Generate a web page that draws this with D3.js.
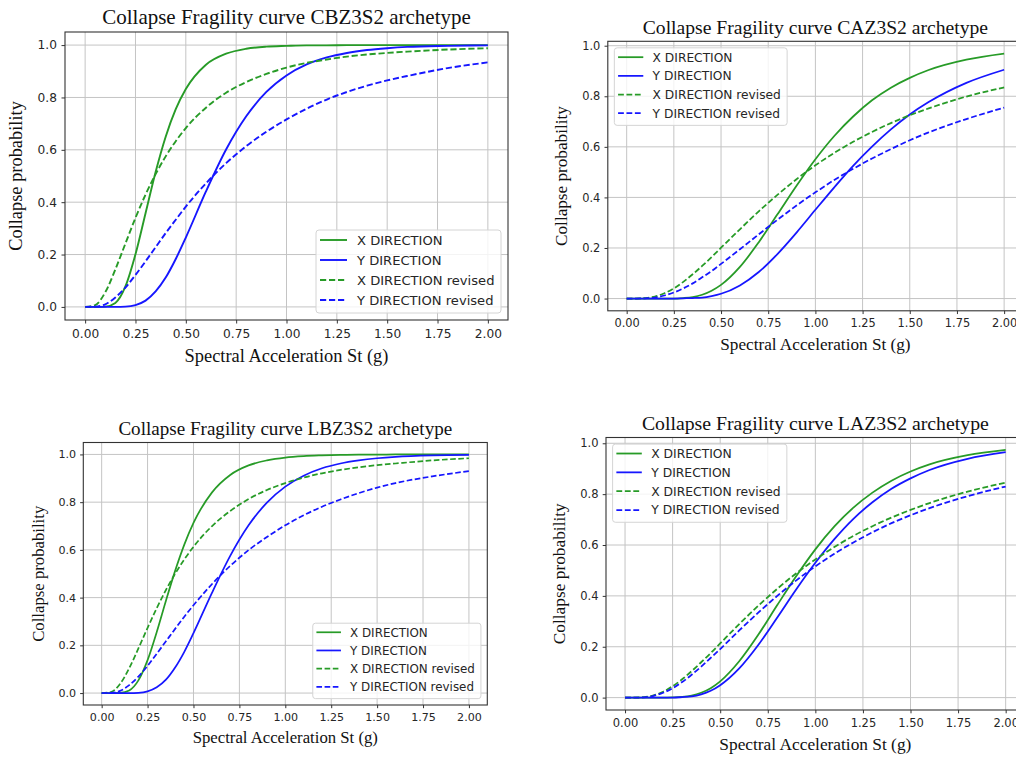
<!DOCTYPE html>
<html>
<head>
<meta charset="utf-8">
<script src="https://cdn.jsdelivr.net/npm/d3@7"></script>
<style>
  html, body { margin: 0; padding: 0; background: #fff; }
  svg { display: block; }
</style>
</head>
<body>
<svg id="chart" width="1016" height="758"></svg>
<script>
// spectral acceleration samples (g), shared by every curve
const sa = [0, 0.05, 0.1, 0.15, 0.2, 0.25, 0.3, 0.35, 0.4, 0.45, 0.5, 0.6, 0.7, 0.8, 0.9, 1.0, 1.1, 1.2, 1.3, 1.4, 1.5, 1.6, 1.8, 2.0];

// CBZ3S2
const cbzX  = [0, 0, 0.001, 0.015, 0.078, 0.201, 0.358, 0.515, 0.650, 0.755, 0.832, 0.925, 0.967, 0.986, 0.994, 0.997, 0.999, 0.999, 1.0, 1.0, 1.0, 1.0, 1.0, 1.0];
const cbzY  = [0, 0, 0, 0, 0.001, 0.007, 0.024, 0.059, 0.112, 0.183, 0.265, 0.441, 0.601, 0.728, 0.821, 0.884, 0.926, 0.953, 0.970, 0.981, 0.988, 0.993, 0.997, 0.999];
const cbzXr = [0, 0.007, 0.056, 0.143, 0.242, 0.340, 0.429, 0.507, 0.575, 0.633, 0.683, 0.761, 0.818, 0.859, 0.890, 0.914, 0.932, 0.945, 0.956, 0.964, 0.970, 0.975, 0.983, 0.988];
const cbzYr = [0, 0.001, 0.010, 0.036, 0.074, 0.122, 0.174, 0.228, 0.282, 0.333, 0.383, 0.472, 0.549, 0.614, 0.669, 0.716, 0.757, 0.792, 0.821, 0.845, 0.865, 0.882, 0.912, 0.934];

// CAZ3S2
const cazX  = [0, 0, 0, 0, 0, 0, 0.002, 0.006, 0.015, 0.031, 0.054, 0.125, 0.223, 0.334, 0.446, 0.551, 0.643, 0.720, 0.784, 0.834, 0.873, 0.904, 0.945, 0.969];
const cazY  = [0, 0, 0, 0, 0, 0, 0.001, 0.002, 0.004, 0.010, 0.019, 0.052, 0.105, 0.177, 0.261, 0.351, 0.440, 0.525, 0.601, 0.669, 0.728, 0.777, 0.853, 0.905];
const cazXr = [0, 0, 0.002, 0.008, 0.021, 0.040, 0.066, 0.096, 0.129, 0.164, 0.201, 0.274, 0.345, 0.411, 0.472, 0.527, 0.576, 0.620, 0.659, 0.694, 0.725, 0.752, 0.799, 0.835];
const cazYr = [0, 0, 0.001, 0.004, 0.012, 0.024, 0.040, 0.060, 0.084, 0.109, 0.137, 0.195, 0.254, 0.312, 0.368, 0.420, 0.469, 0.513, 0.554, 0.591, 0.626, 0.657, 0.710, 0.755];

// LBZ3S2
const lbzX  = [0, 0, 0.001, 0.011, 0.053, 0.138, 0.256, 0.387, 0.512, 0.622, 0.713, 0.840, 0.914, 0.954, 0.975, 0.987, 0.993, 0.996, 0.998, 0.999, 0.999, 1.0, 1.0, 1.0];
const lbzY  = [0, 0, 0, 0, 0.001, 0.007, 0.024, 0.056, 0.107, 0.173, 0.251, 0.419, 0.575, 0.703, 0.798, 0.865, 0.911, 0.942, 0.962, 0.975, 0.984, 0.990, 0.996, 0.998];
const lbzXr = [0, 0.004, 0.038, 0.104, 0.187, 0.273, 0.356, 0.432, 0.500, 0.560, 0.613, 0.699, 0.763, 0.813, 0.851, 0.880, 0.903, 0.921, 0.935, 0.946, 0.955, 0.962, 0.975, 0.984];
const lbzYr = [0, 0.001, 0.009, 0.033, 0.069, 0.114, 0.165, 0.217, 0.269, 0.320, 0.368, 0.456, 0.533, 0.599, 0.654, 0.703, 0.745, 0.781, 0.811, 0.838, 0.861, 0.880, 0.908, 0.930];

// LAZ3S2
const lazX  = [0, 0, 0, 0, 0, 0.001, 0.003, 0.008, 0.019, 0.037, 0.064, 0.143, 0.247, 0.364, 0.478, 0.583, 0.673, 0.747, 0.806, 0.853, 0.889, 0.917, 0.953, 0.974];
const lazY  = [0, 0, 0, 0, 0, 0, 0.002, 0.005, 0.013, 0.027, 0.049, 0.115, 0.207, 0.315, 0.426, 0.530, 0.623, 0.703, 0.768, 0.821, 0.862, 0.895, 0.939, 0.965];
const lazXr = [0, 0, 0.002, 0.009, 0.023, 0.045, 0.072, 0.104, 0.139, 0.175, 0.213, 0.289, 0.361, 0.428, 0.489, 0.543, 0.592, 0.636, 0.674, 0.708, 0.738, 0.765, 0.810, 0.845];
const lazYr = [0, 0, 0.001, 0.007, 0.019, 0.037, 0.061, 0.090, 0.122, 0.156, 0.191, 0.264, 0.334, 0.400, 0.461, 0.516, 0.566, 0.610, 0.650, 0.686, 0.717, 0.745, 0.792, 0.830];

const seriesNames = ["X DIRECTION", "Y DIRECTION", "X DIRECTION revised", "Y DIRECTION revised"];
const xTicks = [0, 0.25, 0.5, 0.75, 1.0, 1.25, 1.5, 1.75, 2.0];
const yTicks = [0, 0.2, 0.4, 0.6, 0.8, 1.0];

const GREEN = "#279b27";
const BLUE = "#1616ff";
const styles = [
  { color: GREEN, dashed: false },
  { color: BLUE, dashed: false },
  { color: GREEN, dashed: true },
  { color: BLUE, dashed: true }
];

// box = [left, top, right, bottom] of the axes frame, s = size factor of that screenshot
const panels = [
  { title: "Collapse Fragility curve CBZ3S2 archetype", series: [cbzX, cbzY, cbzXr, cbzYr],
    box: [65, 32, 508, 320], s: 1.0, legend: "lower right" },
  { title: "Collapse Fragility curve CAZ3S2 archetype", series: [cazX, cazY, cazXr, cazYr],
    box: [607.8, 41.3, 1023, 310.8], s: 0.934, legend: "upper left" },
  { title: "Collapse Fragility curve LBZ3S2 archetype", series: [lbzX, lbzY, lbzXr, lbzYr],
    box: [83.3, 442.5, 487.3, 705], s: 0.909, legend: "lower right" },
  { title: "Collapse Fragility curve LAZ3S2 archetype", series: [lazX, lazY, lazXr, lazYr],
    box: [606, 437.5, 1024.7, 710], s: 0.942, legend: "upper left" }
];

const svg = d3.select("#chart");
svg.append("rect").attr("width", 1016).attr("height", 758).attr("fill", "#fff");

const SANS = "'DejaVu Sans', sans-serif";
const SERIF = "'Liberation Serif', 'Times New Roman', serif";

const drawPanel = (p) => {
  const [x0, y0, x1, y1] = p.box;
  const s = p.s;
  const g = svg.append("g");

  const all = p.series.flat();
  const lo = d3.min(all), hi = d3.max(all);
  const pad = (hi - lo) * 0.05;
  const x = d3.scaleLinear().domain([-0.1, 2.1]).range([x0, x1]);
  const y = d3.scaleLinear().domain([lo - pad, hi + pad]).range([y1, y0]);

  // grid
  g.append("g").selectAll("line").data(xTicks).join("line")
    .attr("x1", d => x(d)).attr("x2", d => x(d))
    .attr("y1", y0).attr("y2", y1)
    .attr("stroke", "#c4c4c4").attr("stroke-width", 1);
  g.append("g").selectAll("line").data(yTicks).join("line")
    .attr("x1", x0).attr("x2", x1)
    .attr("y1", d => y(d)).attr("y2", d => y(d))
    .attr("stroke", "#c4c4c4").attr("stroke-width", 1);

  // curves
  const line = d3.line()
    .x((d, i) => x(sa[i]))
    .y(d => y(d))
    .curve(d3.curveMonotoneX);

  const dash = `${6.2 * s} ${2.8 * s}`;
  p.series.forEach((vals, k) => {
    g.append("path")
      .datum(vals)
      .attr("d", line)
      .attr("fill", "none")
      .attr("stroke", styles[k].color)
      .attr("stroke-width", 1.9 * s)
      .attr("stroke-dasharray", styles[k].dashed ? dash : null);
  });

  // axes
  const xAxis = d3.axisBottom(x).tickValues(xTicks).tickFormat(d3.format(".2f"))
    .tickSizeInner(3.5 * s).tickSizeOuter(0).tickPadding(5.5 * s);
  const yAxis = d3.axisLeft(y).tickValues(yTicks).tickFormat(d3.format(".1f"))
    .tickSizeInner(3.5 * s).tickSizeOuter(0).tickPadding(4.5 * s);

  const gx = g.append("g").attr("transform", `translate(0,${y1})`).call(xAxis);
  const gy = g.append("g").attr("transform", `translate(${x0},0)`).call(yAxis);
  [gx, gy].forEach(a => {
    a.select(".domain").remove();
    a.selectAll(".tick line").attr("stroke", "#333").attr("stroke-width", 1);
    a.selectAll(".tick text")
      .attr("fill", "#262626")
      .style("font-family", SANS)
      .style("font-size", `${12.2 * s}px`);
  });

  // frame
  g.append("rect")
    .attr("x", x0).attr("y", y0)
    .attr("width", x1 - x0).attr("height", y1 - y0)
    .attr("fill", "none").attr("stroke", "#333").attr("stroke-width", 1.1);

  // title and labels
  const cx = (x0 + x1) / 2;
  g.append("text")
    .attr("x", cx).attr("y", y0 - 8 * s)
    .attr("text-anchor", "middle")
    .style("font-family", SERIF).style("font-size", `${21 * s}px`)
    .attr("fill", "#111")
    .text(p.title);

  g.append("text")
    .attr("x", cx).attr("y", y1 + 42 * s)
    .attr("text-anchor", "middle")
    .style("font-family", SERIF).style("font-size", `${18.4 * s}px`)
    .attr("fill", "#111")
    .text("Spectral Acceleration St (g)");

  g.append("text")
    .attr("transform", `translate(${x0 - 43.5 * s},${(y0 + y1) / 2}) rotate(-90)`)
    .attr("text-anchor", "middle")
    .style("font-family", SERIF).style("font-size", `${18.4 * s}px`)
    .attr("fill", "#111")
    .text("Collapse probability");

  // legend
  const lw = 185 * s, lh = 83 * s, gap = 7 * s;
  const lx = p.legend === "upper left" ? x0 + gap : x1 - gap - lw;
  const ly = p.legend === "upper left" ? y0 + gap : y1 - gap - lh;
  const leg = g.append("g").attr("transform", `translate(${lx},${ly})`);
  leg.append("rect")
    .attr("width", lw).attr("height", lh)
    .attr("rx", 3 * s)
    .attr("fill", "#fff").attr("fill-opacity", 0.8)
    .attr("stroke", "#d4d4d4").attr("stroke-width", 1);

  const rows = leg.selectAll(".row").data(seriesNames).join("g")
    .attr("transform", (d, i) => `translate(0,${(10 + i * 20) * s})`);
  rows.append("line")
    .attr("x1", 4 * s).attr("x2", 31 * s)
    .attr("stroke", (d, i) => styles[i].color)
    .attr("stroke-width", 1.9 * s)
    .attr("stroke-dasharray", (d, i) => styles[i].dashed ? dash : null);
  rows.append("text")
    .attr("x", 41 * s).attr("dy", "0.36em")
    .attr("fill", "#262626")
    .style("font-family", SANS).style("font-size", `${13.1 * s}px`)
    .text(d => d);
};

panels.forEach(drawPanel);
</script>
</body>
</html>
